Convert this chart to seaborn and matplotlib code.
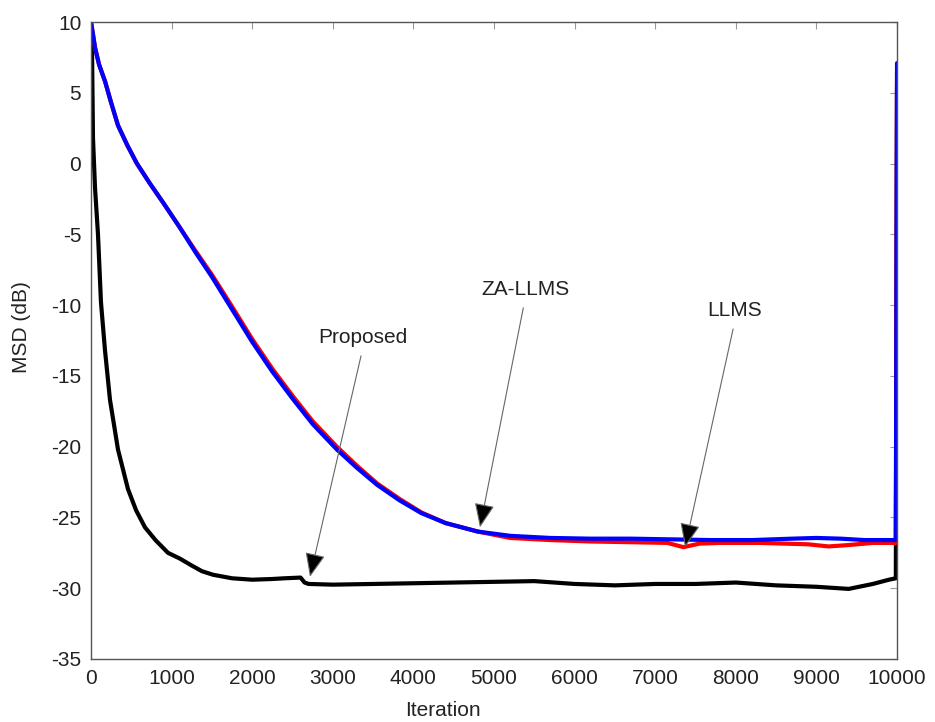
import matplotlib
matplotlib.use("Agg")
import matplotlib.pyplot as plt
import seaborn as sns
import numpy as np
import pandas as pd

# ---- data ----
black_x = [0, 12, 25, 50, 87, 124, 174, 236, 335, 459, 560, 670, 800, 955, 1100, 1250,
           1377, 1514, 1750, 2000, 2250, 2400, 2600, 2650, 2700, 3000, 3500, 4000, 4500,
           5000, 5500, 6000, 6500, 7000, 7500, 8000, 8500, 9000, 9400, 9700, 9900, 9985, 10000]
black_y = [10, 8.4, 1.8, -1.7, -5.0, -9.8, -13.2, -16.7, -20.2, -23.0, -24.5, -25.7, -26.6,
           -27.5, -27.9, -28.4, -28.8, -29.05, -29.3, -29.4, -29.35, -29.3, -29.25, -29.6,
           -29.7, -29.75, -29.7, -29.65, -29.6, -29.55, -29.5, -29.7, -29.8, -29.7, -29.7,
           -29.6, -29.8, -29.9, -30.05, -29.7, -29.4, -29.3, 5.5]

blue_x = [0, 20, 50, 100, 175, 250, 335, 450, 570, 730, 900, 1100, 1300, 1500, 1750, 2000,
          2250, 2500, 2750, 3050, 3300, 3550, 3830, 4100, 4400, 4800, 5200, 5700, 6200,
          6700, 7200, 7700, 8200, 8700, 9000, 9300, 9600, 9985, 10000]
blue_y = [10, 9.3, 8.2, 7.0, 5.8, 4.3, 2.7, 1.3, 0.0, -1.4, -2.8, -4.5, -6.3, -8.0, -10.3,
          -12.6, -14.7, -16.6, -18.4, -20.2, -21.5, -22.7, -23.8, -24.7, -25.4, -26.0,
          -26.3, -26.45, -26.5, -26.5, -26.55, -26.6, -26.6, -26.5, -26.45, -26.5, -26.6,
          -26.6, 7.1]

red_x = [0, 20, 50, 100, 175, 250, 335, 450, 570, 730, 900, 1100, 1300, 1500, 1750, 2000,
         2250, 2500, 2750, 3050, 3300, 3550, 3830, 4100, 4400, 4800, 5200, 5700, 6200,
         6700, 7150, 7350, 7550, 7800, 8300, 8900, 9150, 9400, 9700, 9985, 10000]
red_y = [10, 9.3, 8.2, 7.0, 5.8, 4.3, 2.7, 1.3, 0.0, -1.4, -2.8, -4.5, -6.2, -7.85, -10.1,
         -12.4, -14.5, -16.4, -18.2, -20.0, -21.35, -22.6, -23.7, -24.65, -25.4, -26.0,
         -26.45, -26.6, -26.7, -26.75, -26.8, -27.1, -26.85, -26.8, -26.8, -26.9, -27.05,
         -26.95, -26.8, -26.8, 6.5]

labels = ["Proposed", "ZA-LLMS", "LLMS"]
label_text_xy = [(3375, -12.3), (5385, -8.9), (7990, -10.4)]
label_tip_xy = [(2717, -29.2), (4826, -25.7), (7370, -27.1)]

x_ticks = [0, 1000, 2000, 3000, 4000, 5000, 6000, 7000, 8000, 9000, 10000]
y_ticks = [-35, -30, -25, -20, -15, -10, -5, 0, 5, 10]

# ---- plotting ----
sns.set_theme(style="white")
plt.rcParams['font.family'] = ['Liberation Sans', 'DejaVu Sans']

fig = plt.figure(figsize=(9.35, 7.22), dpi=100)
ax = fig.add_axes([0.0973, 0.0873, 0.8621, 0.8822])

df_black = pd.DataFrame({"x": black_x, "y": black_y})
df_red = pd.DataFrame({"x": red_x, "y": red_y})
df_blue = pd.DataFrame({"x": blue_x, "y": blue_y})

sns.lineplot(data=df_black, x="x", y="y", ax=ax, color="black", lw=3.0, sort=False,
             estimator=None)
sns.lineplot(data=df_red, x="x", y="y", ax=ax, color="#ff0000", lw=3.0, sort=False,
             estimator=None)
sns.lineplot(data=df_blue, x="x", y="y", ax=ax, color="#0000ff", lw=3.0, sort=False,
             estimator=None)

ax.set_xlim(0, 10000)
ax.set_ylim(-35, 10)
ax.set_xticks(x_ticks)
ax.set_yticks(y_ticks)
ax.set_xticklabels([str(t) for t in x_ticks])
ax.set_yticklabels([str(t) for t in y_ticks])
ax.tick_params(direction="in", length=5, width=0.8, labelsize=15,
               top=True, right=True, pad=7, labelcolor="#222222", color="#999999")
for s in ax.spines.values():
    s.set_color("#555555")
    s.set_linewidth(1.0)

ax.set_xlabel("Iteration", fontsize=15, color="#222222")
ax.set_ylabel("MSD (dB)", fontsize=15, color="#222222")
ax.xaxis.set_label_coords(0.437, -0.066)
ax.yaxis.set_label_coords(-0.074, 0.521)

for lab, txy, tip in zip(labels, label_text_xy, label_tip_xy):
    ax.annotate(lab, xy=tip, xytext=txy, ha="center", va="center", fontsize=15,
                color="#222222",
                arrowprops=dict(arrowstyle="-|>,head_length=1.0,head_width=0.42",
                                facecolor="black", edgecolor="#666666", lw=0.8,
                                shrinkA=4, shrinkB=0, relpos=(0.5, 0.0)))

fig.savefig("out.png", dpi=100, facecolor="white")
